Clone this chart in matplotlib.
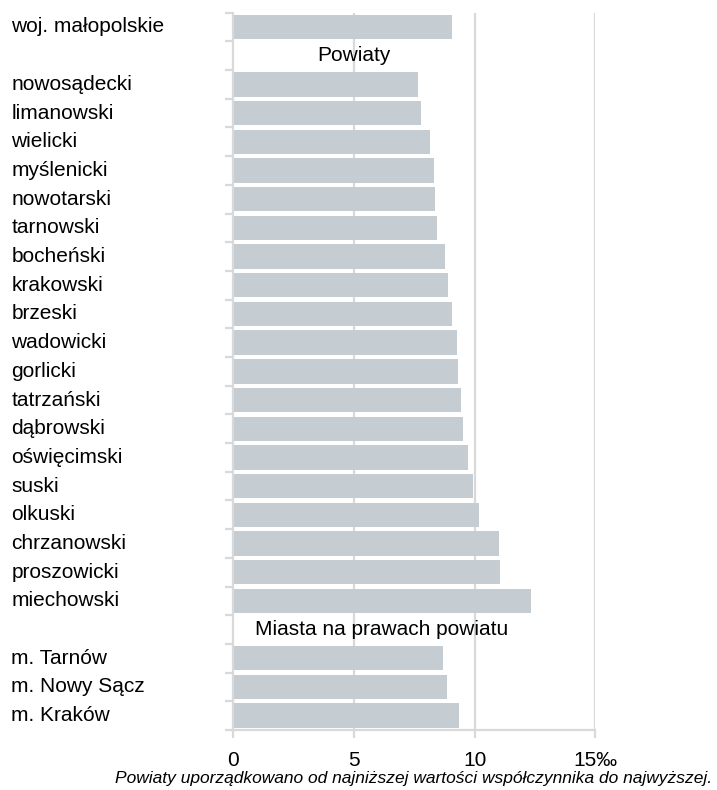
import matplotlib
matplotlib.use("Agg")
import matplotlib.pyplot as plt
from matplotlib.transforms import blended_transform_factory

plt.rcParams['font.family'] = ['Liberation Sans', 'DejaVu Sans']

# data (per mille)
woj_label = 'woj. małopolskie'
woj_value = 9.08

powiaty = ['nowosądecki', 'limanowski', 'wielicki', 'myślenicki', 'nowotarski',
           'tarnowski', 'bocheński', 'krakowski', 'brzeski', 'wadowicki',
           'gorlicki', 'tatrzański', 'dąbrowski', 'oświęcimski', 'suski',
           'olkuski', 'chrzanowski', 'proszowicki', 'miechowski']
powiaty_values = [7.65, 7.79, 8.17, 8.31, 8.34, 8.46, 8.79, 8.90, 9.07, 9.28,
                  9.33, 9.44, 9.50, 9.73, 9.93, 10.19, 11.00, 11.07, 12.33]

miasta = ['m. Tarnów', 'm. Nowy Sącz', 'm. Kraków']
miasta_values = [8.70, 8.84, 9.37]

x_ticks = [0, 5, 10, 15]
x_tick_labels = ['0', '5', '10', '15‰']

# row layout: woj, header, powiaty, header, miasta
labels = [woj_label] + powiaty + miasta
values = [woj_value] + powiaty_values + miasta_values
rows = [0] + [2 + i for i in range(len(powiaty))] + [3 + len(powiaty) + i for i in range(len(miasta))]
n_rows = 3 + len(powiaty) + len(miasta)

bar_color = '#C5CDD3'
grid_color = '#D9D9D9'

fig = plt.figure(figsize=(7.17, 7.90), dpi=100)
ax = fig.add_axes([0.3254, 0.0759, 0.5049, 0.9081])

ax.barh(rows, values, height=0.85, color=bar_color, zorder=2)

ax.set_xlim(0, 15)
ax.set_ylim(n_rows - 0.5, -0.5)

for x in x_ticks[1:]:
    ax.axvline(x, color=grid_color, lw=1.6, zorder=1)

for s in ['top', 'right']:
    ax.spines[s].set_visible(False)
for s in ['left', 'bottom']:
    ax.spines[s].set_color(grid_color)
    ax.spines[s].set_linewidth(1.6)

ax.set_xticks(x_ticks)
ax.set_xticklabels(x_tick_labels, fontsize=15)
ax.tick_params(axis='x', length=6, width=1.6, color=grid_color, pad=9)

ax.set_yticks([i - 0.5 for i in range(n_rows + 1)])
ax.set_yticklabels([])
ax.tick_params(axis='y', length=6, width=1.6, color=grid_color)

# category labels, left aligned near the figure edge
tr = blended_transform_factory(fig.transFigure, ax.transData)
for r, lab in zip(rows, labels):
    ax.text(0.016, r, lab, transform=tr, ha='left', va='center', fontsize=15)

# section headers
ax.text(3.47, 1, 'Powiaty', ha='left', va='center', fontsize=15)
ax.text(0.9, 2 + len(powiaty), 'Miasta na prawach powiatu', ha='left', va='center', fontsize=15)

fig.text(0.993, 0.015, 'Powiaty uporządkowano od najniższej wartości współczynnika do najwyższej.',
         ha='right', va='center', fontsize=12.5, style='italic')

fig.savefig('out.png', dpi=100)
